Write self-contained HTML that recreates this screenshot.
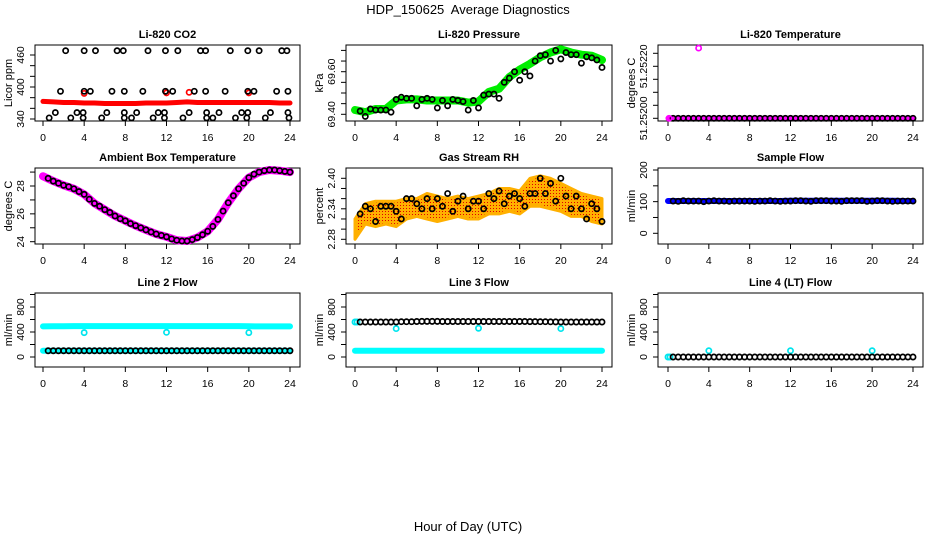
<!DOCTYPE html>
<html><head><meta charset="utf-8"><style>
html,body{margin:0;padding:0;background:#fff;}
svg{display:block;font-family:"Liberation Sans",sans-serif;}
</style></head><body>
<svg id="chart" width="936" height="540" viewBox="0 0 936 540" xmlns="http://www.w3.org/2000/svg">
<defs>
<pattern id="rhpat" width="3" height="3" patternUnits="userSpaceOnUse">
<rect width="3" height="3" fill="#ffb000"/><rect x="1" y="1" width="1" height="1" fill="#e00000"/>
</pattern>
</defs>
<text x="468" y="14" text-anchor="middle" font-size="13">HDP_150625&#160; Average Diagnostics</text>
<text x="468" y="531" text-anchor="middle" font-size="13">Hour of Day (UTC)</text>
</svg>
<script>
// ---------- data ----------
const hours = [0.5,1,1.5,2,2.5,3,3.5,4,4.5,5,5.5,6,6.5,7,7.5,8,8.5,9,9.5,10,10.5,11,11.5,12,12.5,13,13.5,14,14.5,15,15.5,16,16.5,17,17.5,18,18.5,19,19.5,20,20.5,21,21.5,22,22.5,23,23.5,24];
const bandHours = [0,1,2,3,4,5,6,7,8,9,10,11,12,13,14,15,16,17,18,19,20,21,22,23,24];
const xTicks = [0,4,8,12,16,20,24];

const co2BlackX = [2.2,4,5.1,7.2,7.8,10.2,11.9,13.1,15.3,15.8,18.2,19.9,21,23.2,23.7, 1.7,4,4.6,6.7,7.9,9.7,11.9,12.6,14.7,15.8,17.7,19.9,20.5,22.7,23.8, 1.2,3.3,3.9,6.2,7.9,9.1,11.2,11.8,14.2,15.9,17.1,19.3,19.9,22.1,23.8, 0.6,2.7,3.9,5.7,7.9,8.6,10.7,11.8,13.6,15.9,16.5,18.7,19.8,21.6,23.9];
const co2BlackY = [468,468,468,468,468,468,468,468,468,468,468,468,468,468,468, 392,392,392,392,392,392,392,392,392,392,392,392,392,392,392, 352,352,352,352,352,352,352,352,352,352,352,352,352,352,352, 342,342,342,342,342,342,342,342,342,342,342,342,342,342,342];
const co2Band = [373,372,371,371,370,370,369,369,369,369,370,370,370,371,372,371,371,371,371,371,371,371,371,370,370];
const co2RedX = [4,12,14.2,20];
const co2RedY = [388,389,390,389];

const presBand = [69.42,69.41,69.425,69.425,69.465,69.47,69.47,69.465,69.465,69.465,69.465,69.455,69.46,69.505,69.52,69.575,69.61,69.637,69.668,69.69,69.705,69.69,69.68,69.675,69.655];
const presBlack = [69.415,69.39,69.425,69.42,69.42,69.42,69.41,69.47,69.48,69.475,69.475,69.44,69.47,69.475,69.47,69.43,69.465,69.44,69.47,69.465,69.46,69.42,69.465,69.43,69.49,69.495,69.495,69.475,69.55,69.57,69.6,69.56,69.6,69.58,69.65,69.675,69.68,69.65,69.7,69.66,69.69,69.68,69.68,69.64,69.67,69.665,69.655,69.62];

const tempBand = [51.252,51.252,51.252,51.252,51.252,51.252,51.252,51.252,51.252,51.252,51.252,51.252,51.252,51.252,51.252,51.252,51.252,51.252,51.252,51.252,51.252,51.252,51.252,51.252,51.252];
const tempBlack = [51.252,51.252,51.252,51.252,51.252,51.252,51.252,51.252,51.252,51.252,51.252,51.252,51.252,51.252,51.252,51.252,51.252,51.252,51.252,51.252,51.252,51.252,51.252,51.252,51.252,51.252,51.252,51.252,51.252,51.252,51.252,51.252,51.252,51.252,51.252,51.252,51.252,51.252,51.252,51.252,51.252,51.252,51.252,51.252,51.252,51.252,51.252,51.252];
const tempOutX = [3, 0.1];
const tempOutY = [51.25227, 51.252];

const ambBand = [28.7,28.35,28.05,27.8,27.4,26.75,26.3,25.85,25.5,25.15,24.85,24.55,24.35,24.1,24.05,24.3,24.75,25.6,26.8,27.8,28.6,29.0,29.15,29.1,29.0];
const ambBlack = [28.55,28.35,28.2,28.05,27.95,27.8,27.6,27.4,27.05,26.75,26.55,26.3,26.1,25.85,25.65,25.5,25.3,25.15,25.0,24.85,24.7,24.55,24.45,24.35,24.2,24.1,24.05,24.05,24.15,24.3,24.5,24.75,25.1,25.6,26.2,26.8,27.3,27.8,28.2,28.6,28.85,29.0,29.1,29.15,29.15,29.1,29.05,29.0];

const rhUpper = [2.32,2.35,2.355,2.355,2.355,2.36,2.36,2.37,2.365,2.36,2.365,2.36,2.365,2.37,2.38,2.38,2.375,2.40,2.405,2.40,2.39,2.38,2.37,2.365,2.36];
const rhLower = [2.28,2.31,2.305,2.31,2.305,2.32,2.325,2.32,2.315,2.32,2.325,2.32,2.32,2.33,2.33,2.335,2.33,2.345,2.345,2.34,2.335,2.325,2.325,2.315,2.31];
const rhBlack = [2.33,2.345,2.34,2.315,2.345,2.345,2.345,2.335,2.32,2.36,2.36,2.35,2.34,2.36,2.34,2.36,2.345,2.37,2.335,2.355,2.365,2.34,2.355,2.355,2.34,2.37,2.36,2.375,2.35,2.365,2.37,2.36,2.345,2.37,2.37,2.40,2.37,2.39,2.355,2.40,2.365,2.34,2.365,2.34,2.32,2.35,2.34,2.315];

const flowBand = [102,102,102,102,102,102,102,102,102,102,102,102,103,103,103,103,103,103,103,103,103,103,103,102,102];
const flowBlack = [102,101,103,102,102,102,100,102,103,102,102,101,102,102,102,102,101,102,102,103,102,101,102,102,103,103,102,101,103,103,103,102,102,101,103,103,103,103,101,102,103,103,102,101,102,102,102,102];

const l2BandHigh = [490,492,493,494,495,495,495,495,495,495,495,495,495,495,495,495,495,495,495,495,492,490,490,490,490];
const l2BandLow = [100,100,100,100,100,100,100,100,100,100,100,100,100,100,100,100,100,100,100,100,100,100,100,100,100];
const l2Black = [100,100,100,100,100,100,100,100,100,100,100,100,100,100,100,100,100,100,100,100,100,100,100,100,100,100,100,100,100,100,100,100,100,100,100,100,100,100,100,100,100,100,100,100,100,100,100,100];
const l2OutX = [4,12,20];
const l2OutY = [390,395,390];

const l3BandLow = [100,100,100,100,100,100,100,100,100,100,100,100,100,100,100,100,100,100,100,100,100,100,100,100,100];
const l3Black = [560,560,560,560,560,560,560,560,565,565,565,568,570,570,570,570,568,568,568,568,568,568,568,568,568,568,568,568,568,568,568,568,568,566,566,565,565,563,562,560,560,560,560,560,560,560,560,560];
const l3CyanX = [0,0.2,4,12,20];
const l3CyanY = [560,560,455,460,455];

const l4Black = [0,0,0,0,0,0,0,0,0,0,0,0,0,0,0,0,0,0,0,0,0,0,0,0,0,0,0,0,0,0,0,0,0,0,0,0,0,0,0,0,0,0,0,0,0,0,0,0];
const l4CyanX = [0,0.2,4,12,20];
const l4CyanY = [0,0,100,100,100];

// ---------- drawing ----------
const svg = document.getElementById('chart');
const NS = 'http://www.w3.org/2000/svg';
function mk(tag, attrs, parent){
  const e = document.createElementNS(NS, tag);
  for (const k in attrs) e.setAttribute(k, attrs[k]);
  (parent||svg).appendChild(e);
  return e;
}

function panel(p){
  const g = mk('g', {});
  
  
  const sx = h => p.x0 + (p.x24 - p.x0) * h / 24;
  const sy = v => p.ya + (v - p.va) * (p.yb - p.ya) / (p.vb - p.va);
  p.sx = sx; p.sy = sy; p.g = g;
  const fr = mk('rect', {x:p.l, y:p.t, width:p.r-p.l, height:p.b-p.t, fill:'none', stroke:'#000', 'stroke-width':1}, g);
  
  
  const tt = mk('text', {x:(p.l+p.r)/2, y:p.t-7, 'text-anchor':'middle', 'font-size':11, 'font-weight':'bold'}, g);
  tt.textContent = p.title;
  
  
  const xa = mk('g', {}, g);
  
  
  mk('line', {x1:sx(0), x2:sx(24), y1:p.b, y2:p.b, stroke:'#000'}, xa);
  xTicks.forEach(t => {
    mk('line', {x1:sx(t), x2:sx(t), y1:p.b, y2:p.b+5, stroke:'#000'}, xa);
    const lb = mk('text', {x:sx(t), y:p.b+20, 'text-anchor':'middle', 'font-size':10.5}, xa);
    lb.textContent = t;
    
    
  });
  const ya = mk('g', {}, g);
  
  
  mk('line', {x1:p.l, x2:p.l, y1:sy(p.yTicks[0]), y2:sy(p.yTicks[p.yTicks.length-1]), stroke:'#000'}, ya);
  p.yTicks.forEach(t => mk('line', {x1:p.l-5, x2:p.l, y1:sy(t), y2:sy(t), stroke:'#000'}, ya));
  p.yLabels.forEach((t,i) => {
    const y = sy(t), x = p.l - 11;
    const lb = mk('text', {x:x, y:y, 'text-anchor':'middle', 'font-size':10.5, transform:`rotate(-90 ${x} ${y})`}, ya);
    lb.textContent = p.yLabelText[i];
    
    
  });
  const yx = p.l - 23, yy = (p.t+p.b)/2;
  const yl = mk('text', {x:yx, y:yy, 'text-anchor':'middle', 'font-size':11, transform:`rotate(-90 ${yx} ${yy})`}, g);
  yl.textContent = p.ylab;
  
  
  return p;
}
function band(p, xs, ys, color, w, name){
  const pts = xs.map((h,i) => `${p.sx(h).toFixed(1)},${p.sy(ys[i]).toFixed(1)}`).join(' ');
  const e = mk('polyline', {points:pts, fill:'none', stroke:color, 'stroke-width':w, 'stroke-linecap':'round', 'stroke-linejoin':'round'}, p.g);
  
  
}
function pts(p, xs, ys, color, name){
  const gg = mk('g', {}, p.g);
  
  
  xs.forEach((h,i) => {
    const c = mk('circle', {cx:p.sx(h), cy:p.sy(ys[i]), r:2.6, fill:'none', stroke:color, 'stroke-width':1.7}, gg);
    
    
  });
}

const C1 = {l:35, r:300, x0:43, x24:290};
const C2 = {l:346, r:612, x0:355, x24:602};
const C3 = {l:658, r:923, x0:668, x24:913};
const R1 = {t:45, b:121}, R2 = {t:168, b:244}, R3 = {t:293, b:367};

let p = panel(Object.assign({name:'co2-panel', title:'Li-820 CO2', ylab:'Licor ppm', va:340, ya:119, vb:460, yb:55,
  yTicks:[340,360,380,400,420,440,460], yLabels:[340,400,460], yLabelText:['340','400','460']}, C1, R1));
band(p, bandHours, co2Band, '#ff0000', 5, 'co2-band');
pts(p, co2RedX, co2RedY, '#ff0000', 'co2-red-points');
pts(p, co2BlackX, co2BlackY, '#000', 'co2-black-points');

p = panel(Object.assign({name:'pressure-panel', title:'Li-820 Pressure', ylab:'kPa', va:69.40, ya:114.3, vb:69.60, yb:71.7,
  yTicks:[69.40,69.45,69.50,69.55,69.60,69.65,69.70], yLabels:[69.40,69.60], yLabelText:['69.40','69.60']}, C2, R1));
band(p, bandHours, presBand, '#00ee00', 8, 'pressure-band');
pts(p, hours, presBlack, '#000', 'pressure-points');

p = panel(Object.assign({name:'temperature-panel', title:'Li-820 Temperature', ylab:'degrees C', va:51.252, ya:118.3, vb:51.2522, yb:66.3,
  yTicks:[51.252,51.25205,51.2521,51.25215,51.2522,51.25225], yLabels:[51.252,51.2522], yLabelText:['51.25200','51.25220']}, C3, R1));
band(p, bandHours, tempBand, '#ff00ff', 5, 'temperature-band');
pts(p, hours, tempBlack, '#000', 'temperature-points');
pts(p, tempOutX, tempOutY, '#ff00ff', 'temperature-outliers');

p = panel(Object.assign({name:'ambient-panel', title:'Ambient Box Temperature', ylab:'degrees C', va:24, ya:241.7, vb:28, yb:186,
  yTicks:[24,25,26,27,28,29], yLabels:[24,26,28], yLabelText:['24','26','28']}, C1, R2));
band(p, bandHours, ambBand, '#ff00ff', 8, 'ambient-band');
pts(p, hours, ambBlack, '#000', 'ambient-points');

p = panel(Object.assign({name:'rh-panel', title:'Gas Stream RH', ylab:'percent', va:2.28, ya:239.3, vb:2.40, yb:178.3,
  yTicks:[2.28,2.30,2.32,2.34,2.36,2.38,2.40], yLabels:[2.28,2.34,2.40], yLabelText:['2.28','2.34','2.40']}, C2, R2));
{
  const up = bandHours.map((h,i)=>`${p.sx(h).toFixed(1)},${p.sy(rhUpper[i]).toFixed(1)}`);
  const lo = bandHours.map((h,i)=>`${p.sx(h).toFixed(1)},${p.sy(rhLower[i]).toFixed(1)}`).reverse();
  const e = mk('polygon', {points:up.concat(lo).join(' '), fill:'url(#rhpat)', stroke:'#ffb000', 'stroke-width':3, 'stroke-linejoin':'round'}, p.g);
  
  
}
pts(p, hours, rhBlack, '#000', 'rh-points');

p = panel(Object.assign({name:'sample-flow-panel', title:'Sample Flow', ylab:'ml/min', va:0, ya:233.3, vb:200, yb:170,
  yTicks:[0,50,100,150,200], yLabels:[0,100,200], yLabelText:['0','100','200']}, C3, R2));
band(p, bandHours, flowBand, '#0000ff', 6, 'sample-flow-band');
pts(p, hours, flowBlack, '#000', 'sample-flow-points');

const flowY = {va:0, ya:357, vb:800, yb:307, yTicks:[0,200,400,600,800,1000], yLabels:[0,400,800], yLabelText:['0','400','800']};
p = panel(Object.assign({name:'line2-panel', title:'Line 2 Flow', ylab:'ml/min'}, flowY, C1, R3));
band(p, bandHours, l2BandHigh, '#00ffff', 6, 'line2-high-band');
band(p, bandHours, l2BandLow, '#00ffff', 6, 'line2-low-band');
pts(p, l2OutX, l2OutY, '#00e5ee', 'line2-outliers');
pts(p, hours, l2Black, '#000', 'line2-points');

p = panel(Object.assign({name:'line3-panel', title:'Line 3 Flow', ylab:'ml/min'}, flowY, C2, R3));
band(p, bandHours, l3BandLow, '#00ffff', 6, 'line3-low-band');
pts(p, l3CyanX, l3CyanY, '#00e5ee', 'line3-cyan-points');
pts(p, hours, l3Black, '#000', 'line3-points');

p = panel(Object.assign({name:'line4-panel', title:'Line 4 (LT) Flow', ylab:'ml/min'}, flowY, C3, R3));
pts(p, l4CyanX, l4CyanY, '#00e5ee', 'line4-cyan-points');
pts(p, hours, l4Black, '#000', 'line4-points');
</script>
</body></html>
